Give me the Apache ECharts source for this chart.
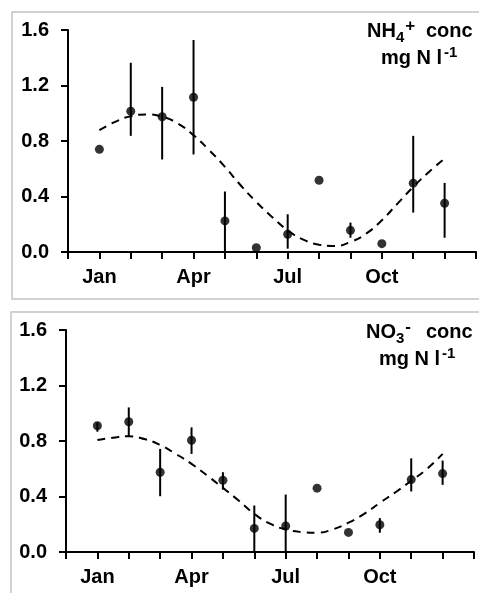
<!DOCTYPE html>
<html>
<head>
<meta charset="utf-8">
<script src="https://cdn.jsdelivr.net/npm/echarts@6/dist/echarts.min.js"></script>
<style>
  html, body { margin: 0; padding: 0; background: #fff; }
  #chart { width: 479px; height: 593px; }
</style>
</head>
<body>
<div id="chart"></div>
<script>
// month positions of the points
const months = [1, 2, 3, 4, 5, 6, 7, 8, 9, 10, 11, 12];
const xTickPos = [1, 4, 7, 10];
const xTickLabels = ['Jan', 'Apr', 'Jul', 'Oct'];

// NH4+ (top panel)
const nh4Mean = [0.74, 1.015, 0.975, 1.115, 0.224, 0.031, 0.128, 0.517, 0.156, 0.06, 0.496, 0.351];
const nh4Lo   = [null, 0.837, 0.667, 0.703, 0.0, null, 0.024, null, 0.103, null, 0.284, 0.103];
const nh4Hi   = [null, 1.364, 1.19, 1.528, 0.436, null, 0.272, null, 0.212, null, 0.837, 0.498];

// NO3- (bottom panel)
const no3Mean = [0.91, 0.939, 0.575, 0.805, 0.517, 0.17, 0.187, 0.46, 0.141, 0.196, 0.522, 0.565];
const no3Lo   = [0.867, 0.831, 0.402, 0.707, 0.45, 0.0, 0.0, null, null, 0.139, 0.436, 0.484];
const no3Hi   = [0.934, 1.042, 0.743, 0.898, 0.575, 0.335, 0.414, null, null, 0.244, 0.675, 0.659];

// dashed seasonal fit
const fitX   = [1, 1.5, 2, 2.5, 3, 3.5, 4, 4.5, 5, 5.5, 6, 6.5, 7, 7.5, 8, 8.5, 9, 9.5, 10, 10.5, 11, 11.5, 12];
const nh4Fit = [0.878, 0.938, 0.979, 0.991, 0.975, 0.926, 0.842, 0.734, 0.614, 0.481, 0.361, 0.253, 0.156, 0.089, 0.053, 0.043, 0.072, 0.132, 0.229, 0.349, 0.469, 0.577, 0.674];
const no3Fit = [0.807, 0.824, 0.834, 0.814, 0.771, 0.707, 0.635, 0.551, 0.462, 0.371, 0.275, 0.204, 0.163, 0.144, 0.139, 0.163, 0.211, 0.275, 0.354, 0.431, 0.513, 0.599, 0.707];

const yTicks = [0, 0.4, 0.8, 1.2, 1.6];

const FONT = '"Liberation Sans", Arial, sans-serif';

function xAxisFor(grid) {
    return {
        type: 'value', gridIndex: grid, min: 0, max: 13, interval: 1,
        axisLine: { lineStyle: { color: '#000', width: 2 } },
        axisTick: { length: 7, lineStyle: { color: '#000', width: 2 } },
        axisLabel: {
            margin: 15, color: '#000', fontSize: 20, fontWeight: 'bold', fontFamily: FONT,
            formatter: function (v) {
                const i = xTickPos.indexOf(v);
                return i >= 0 ? xTickLabels[i] : '';
            }
        },
        splitLine: { show: false }
    };
}

function yAxisFor(grid) {
    return {
        type: 'value', gridIndex: grid, min: yTicks[0], max: yTicks[yTicks.length - 1], interval: 0.4,
        axisLine: { show: true, lineStyle: { color: '#000', width: 2 } },
        axisTick: { show: true, length: 7, lineStyle: { color: '#000', width: 2 } },
        axisLabel: {
            margin: 19, color: '#000', fontSize: 20, fontWeight: 'bold', fontFamily: FONT,
            formatter: function (v) { return v.toFixed(1); }
        },
        splitLine: { show: false }
    };
}

function errData(lo, hi) {
    const out = [];
    months.forEach(function (m, i) {
        if (lo[i] != null) out.push([m, lo[i], hi[i]]);
    });
    return out;
}

function errRender(params, api) {
    const p1 = api.coord([api.value(0), api.value(1)]);
    const p2 = api.coord([api.value(0), api.value(2)]);
    return {
        type: 'line',
        shape: { x1: p1[0], y1: p1[1], x2: p2[0], y2: p2[1] },
        style: { stroke: '#000', lineWidth: 2 }
    };
}

function panelSeries(idx, mean, lo, hi, fit) {
    return [
        {
            type: 'line', xAxisIndex: idx, yAxisIndex: idx,
            data: fitX.map(function (x, i) { return [x, fit[i]]; }),
            smooth: true, symbol: 'none', silent: true,
            lineStyle: { color: '#000', width: 2, type: [8, 6] }, z: 2
        },
        {
            type: 'custom', xAxisIndex: idx, yAxisIndex: idx,
            renderItem: errRender, data: errData(lo, hi), clip: true, z: 3
        },
        {
            type: 'scatter', xAxisIndex: idx, yAxisIndex: idx,
            data: months.map(function (m, i) { return [m, mean[i]]; }),
            symbol: 'circle', symbolSize: 9,
            itemStyle: { color: '#000' }, z: 4
        }
    ];
}

const rich = {
    b: { fontSize: 20, fontWeight: 'bold', fontFamily: FONT, lineHeight: 27, color: '#000' },
    sub: { fontSize: 15, fontWeight: 'bold', fontFamily: FONT, lineHeight: 16, verticalAlign: 'bottom', color: '#000' },
    sup: { fontSize: 17, fontWeight: 'bold', fontFamily: FONT, lineHeight: 20, verticalAlign: 'top', color: '#000', padding: [0, 0, 0, 1] },
    sup2: { fontSize: 15, fontWeight: 'bold', fontFamily: FONT, lineHeight: 18, verticalAlign: 'top', color: '#000', padding: [0, 0, 0, 2] }
};

function textLine(str, x, y) {
    return {
        type: 'text', x: x, y: y, z: 10,
        style: { text: str, textAlign: 'left', textVerticalAlign: 'top', fill: '#000', rich: rich }
    };
}

const option = {
    backgroundColor: '#fff',
    animation: false,
    grid: [
        { left: 68, top: 30, width: 409, height: 222 },
        { left: 66, top: 330, width: 408, height: 222 }
    ],
    xAxis: [xAxisFor(0), xAxisFor(1)],
    yAxis: [yAxisFor(0), yAxisFor(1)],
    graphic: [
        { type: 'rect', shape: { x: 12, y: 12, width: 480, height: 287 }, style: { fill: 'none', stroke: '#c4c4c4', lineWidth: 1.5 }, z: -1 },
        { type: 'rect', shape: { x: 11, y: 312, width: 480, height: 300 }, style: { fill: 'none', stroke: '#c4c4c4', lineWidth: 1.5 }, z: -1 },
        textLine('{b|NH}{sub|4}{sup|+}', 367, 18),
        textLine('{b|conc}', 426, 18),
        textLine('{b|mg N l}{sup2|-1}', 381, 45),
        textLine('{b|NO}{sub|3}{sup|-}', 366, 319),
        textLine('{b|conc}', 426, 319),
        textLine('{b|mg N l}{sup2|-1}', 379, 346)
    ],
    series: panelSeries(0, nh4Mean, nh4Lo, nh4Hi, nh4Fit)
        .concat(panelSeries(1, no3Mean, no3Lo, no3Hi, no3Fit))
};

const chart = echarts.init(document.getElementById('chart'));
chart.setOption(option);
window.addEventListener('resize', function () {
    chart.resize();
});
</script>
</body>
</html>
